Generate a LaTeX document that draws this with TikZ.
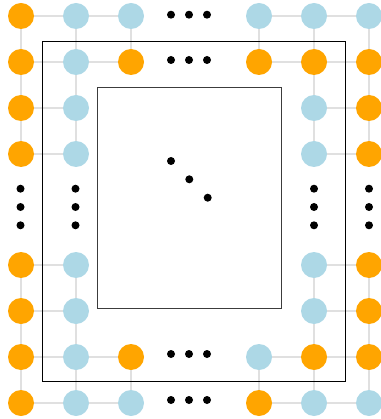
\documentclass[tikz,border=0pt]{standalone}
\begin{document}
\begin{tikzpicture}[x=1pt,y=-1pt,
  qb/.style={circle,inner sep=0pt,minimum size=26pt,draw=none},
  ob/.style={qb,fill={rgb,255:red,255;green,165;blue,0}},
  bb/.style={qb,fill={rgb,255:red,173;green,216;blue,230}},
  dt/.style={circle,inner sep=0pt,minimum size=8pt,fill=black},
  ed/.style={draw={rgb,255:red,224;green,224;blue,224},line width=1.2pt},
  frame/.style={draw=black,line width=0.9pt}]
\useasboundingbox (0,0) rectangle (380,419);
% nodes
\foreach \r/\y/\cols in {1/16/{1/21/ob,2/76/bb,3/131/bb,4/259/bb,5/314/bb,6/369/bb},
                          2/62/{1/21/ob,2/76/bb,3/131/ob,4/259/ob,5/314/ob,6/369/ob},
                          3/108/{1/21/ob,2/76/bb,5/314/bb,6/369/ob},
                          4/154/{1/21/ob,2/76/bb,5/314/bb,6/369/ob},
                          5/265/{1/21/ob,2/76/bb,5/314/bb,6/369/ob},
                          6/311/{1/21/ob,2/76/bb,5/314/bb,6/369/ob},
                          7/357/{1/21/ob,2/76/bb,3/131/ob,4/259/bb,5/314/ob,6/369/ob},
                          8/403/{1/21/ob,2/76/bb,3/131/bb,4/259/ob,5/314/bb,6/369/bb}}{
  \foreach \c/\x/\s in \cols {\node[\s] (n\r\c) at (\x,\y) {};}
}
% edges
\foreach \a/\b in {11/12,12/13,14/15,15/16,21/22,22/23,24/25,25/26,
                   31/32,35/36,41/42,45/46,51/52,55/56,61/62,65/66,
                   71/72,72/73,74/75,75/76,81/82,82/83,84/85,85/86,
                   11/21,21/31,31/41,12/22,22/32,32/42,13/23,14/24,15/25,25/35,35/45,16/26,26/36,36/46,
                   51/61,61/71,71/81,52/62,62/72,72/82,73/83,74/84,55/65,65/75,75/85,56/66,66/76,76/86}
  \draw[ed] (n\a) -- (n\b);
% rectangles
\draw[frame] (42.7,41.7) rectangle (345.5,381);
\draw[frame,draw={rgb,255:red,60;green,60;blue,60}] (97.7,87.7) rectangle (281,308);
% dots horizontal
\foreach \y/\k in {14.7/a,60/b,354/c,400/d}
  \foreach \x/\j in {171/1,189/2,207/3}
    \node[dt] (h\k\j) at (\x,\y) {};
% dots vertical
\foreach \x/\k in {20.5/a,75.5/b,314/c,369/d}
  \foreach \y/\j in {188.7/1,207/2,225.3/3}
    \node[dt] (v\k\j) at (\x,\y) {};
% diagonal
\node[dt] (d1) at (171,161) {};
\node[dt] (d2) at (189.3,179.3) {};
\node[dt] (d3) at (207.7,197.7) {};
\end{tikzpicture}
\end{document}
